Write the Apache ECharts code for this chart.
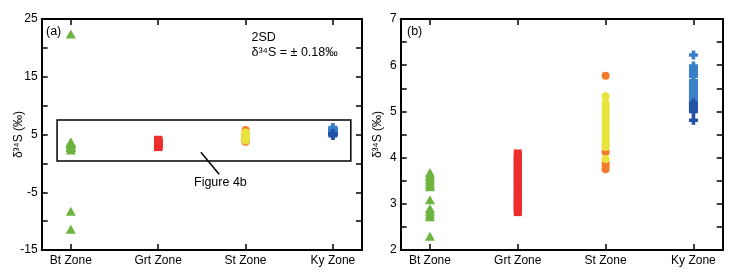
<!DOCTYPE html>
<html>
<head>
<meta charset="utf-8">
<script src="https://cdn.jsdelivr.net/npm/echarts@6/dist/echarts.min.js"></script>
<style>
html,body{margin:0;padding:0;background:#fff;}
#c{width:746px;height:278px;}
</style>
</head>
<body>
<div id="c"></div>
<script>
// Categories
const zones = ['Bt Zone', 'Grt Zone', 'St Zone', 'Ky Zone'];
// Tick values
const yTicksA = [-15, -5, 5, 15, 25];
const yTicksB = [2, 3, 4, 5, 6, 7];
// Bt Zone (green triangles)
const btMain = [3.68, 3.62, 3.57, 3.52, 3.47, 3.42, 3.37, 3.09, 2.9, 2.84, 2.78, 2.72, 2.3];
const btOutliers = [22.4, -8.3, -11.4];
// Grt Zone (red squares)
const grt = [2.82, 2.87, 2.92, 2.98, 3.03, 3.08, 3.13, 3.19, 3.25, 3.31, 3.38, 3.44, 3.5, 3.56, 3.62, 3.68, 3.74, 3.8, 3.86, 3.92, 3.97, 4.03, 4.09];
// St Zone (orange and yellow circles)
const stOrange = [5.77, 4.12, 3.88, 3.82, 3.75];
const stYellow = [5.33, 5.18, 5.12, 5.05, 4.98, 4.92, 4.85, 4.78, 4.71, 4.64, 4.56, 4.49, 4.42, 4.35, 4.29, 4.23, 3.97];
// Ky Zone (blue plus markers)
const kyLight = [6.22, 5.98, 5.9, 5.85, 5.8, 5.76, 5.66, 5.6, 5.55, 5.5, 5.44, 5.38, 5.33, 5.27, 5.22];
const kyDark = [5.18, 5.13, 5.08, 5.04, 5.0, 4.81];
// Inset box & leader line (data coordinates of panel a)
const boxA = {x0: 0.843, x1: 4.205, y0: 0.41, y1: 7.51};
const leader = [[2.489, 1.92], [2.698, -1.89]];

const FONT = 'Liberation Sans, Arial, sans-serif';
const plusPath = 'path://M3,0 L7,0 L7,3 L10,3 L10,7 L7,7 L7,10 L3,10 L3,7 L0,7 L0,3 L3,3 Z';

function pts(xIdx, arr) { return arr.map(v => [xIdx, v]); }

const grids = [
  {left: 41.7, right: 384, top: 19, height: 231},
  {left: 400.7, right: 23.3, top: 19, height: 231}
];

const xAxes = [], yAxes = [];
[0, 1].forEach(g => {
  const common = {
    type: 'value', gridIndex: g, min: 0.667, max: 4.333,
    axisLine: {show: true, onZero: false, lineStyle: {color: '#000', width: 2}},
    splitLine: {show: false}
  };
  xAxes.push(Object.assign({}, common, {
    position: 'bottom',
    axisTick: {show: true, inside: true, length: 6, lineStyle: {width: 1.5, color: '#000'}, customValues: [1, 2, 3, 4]},
    axisLabel: {show: true, customValues: [1, 2, 3, 4], formatter: v => zones[Math.round(v) - 1] || '',
      color: '#000', fontSize: 12, fontFamily: FONT, margin: 5}
  }));
  xAxes.push(Object.assign({}, common, {
    position: 'top',
    axisTick: {show: true, inside: true, length: 6, lineStyle: {width: 1.5, color: '#000'}, customValues: [1, 2, 3, 4]},
    axisLabel: {show: false}
  }));
  const yc = g === 0
    ? {min: -15, max: 25, interval: 5, labels: yTicksA}
    : {min: 2, max: 7, interval: 0.5, labels: yTicksB};
  const yCommon = {
    type: 'value', gridIndex: g, min: yc.min, max: yc.max, interval: yc.interval,
    axisLine: {show: true, onZero: false, lineStyle: {color: '#000', width: 2}},
    axisTick: {show: true, inside: true, length: 6, lineStyle: {width: 1.5, color: '#000'}},
    splitLine: {show: false}
  };
  yAxes.push(Object.assign({}, yCommon, {
    position: 'left',
    name: 'δ³⁴S (‰)', nameLocation: 'middle', nameGap: 17, nameRotate: 90, nameMoveOverlap: false,
    nameTextStyle: {color: '#000', fontSize: 12, fontFamily: FONT},
    axisLabel: {show: true, color: '#000', fontSize: 12, fontFamily: FONT, margin: 4,
      formatter: v => (yc.labels.some(t => Math.abs(t - v) < 1e-6) ? String(Math.round(v)) : '')}
  }));
  yAxes.push(Object.assign({}, yCommon, {
    position: 'right', axisLabel: {show: false}
  }));
});

const C = {green: '#6cb43f', red: '#ec2e2e', orange: '#f47a2c', yellow: '#e9e43c', blue: '#3a80c8', dblue: '#2352a6'};

function ser(g, data, color, symbol, size) {
  return {type: 'scatter', xAxisIndex: g * 2, yAxisIndex: g * 2, data, symbol, symbolSize: size,
    itemStyle: {color, opacity: 1}, silent: true, animation: false};
}

const series = [];
[0, 1].forEach(g => {
  const bt = g === 0 ? btMain.concat(btOutliers) : btMain;
  series.push(ser(g, pts(1, bt), C.green, 'triangle', [10, 9]));
  series.push(ser(g, pts(2, grt), C.red, 'rect', [8, 8]));
  series.push(ser(g, pts(3, stOrange), C.orange, 'circle', 8));
  series.push(ser(g, pts(3, stYellow), C.yellow, 'circle', 8));
  series.push(ser(g, pts(4, kyLight), C.blue, plusPath, 9));
  series.push(ser(g, pts(4, kyDark), C.dblue, plusPath, 9));
});

// inset box and leader line on panel (a)
series.push({
  type: 'scatter', xAxisIndex: 0, yAxisIndex: 0, data: [], silent: true, animation: false,
  markArea: {silent: true, label: {show: false},
    itemStyle: {color: 'rgba(0,0,0,0)', borderColor: '#000', borderWidth: 1.5},
    data: [[{coord: [boxA.x0, boxA.y1]}, {coord: [boxA.x1, boxA.y0]}]]},
  markLine: {silent: true, symbol: 'none', label: {show: false}, animation: false,
    lineStyle: {color: '#000', width: 1.5, type: 'solid'},
    data: [[{coord: leader[0]}, {coord: leader[1]}]]}
});

const txt = (x, y, s, extra) => ({type: 'text', left: x, top: y,
  style: Object.assign({text: s, fill: '#000', font: '12.5px ' + FONT}, extra || {})});

const option = {
  animation: false,
  grid: grids,
  xAxis: xAxes,
  yAxis: yAxes,
  series,
  graphic: [
    txt(46, 25, '(a)'),
    txt(407, 25, '(b)'),
    txt(251.5, 31, '2SD'),
    txt(251.5, 46, 'δ³⁴S = ± 0.18‰'),
    txt(194, 176, 'Figure 4b')
  ]
};

const chart = echarts.init(document.getElementById('c'), null, {renderer: 'canvas'});
chart.setOption(option);
</script>
</body>
</html>
